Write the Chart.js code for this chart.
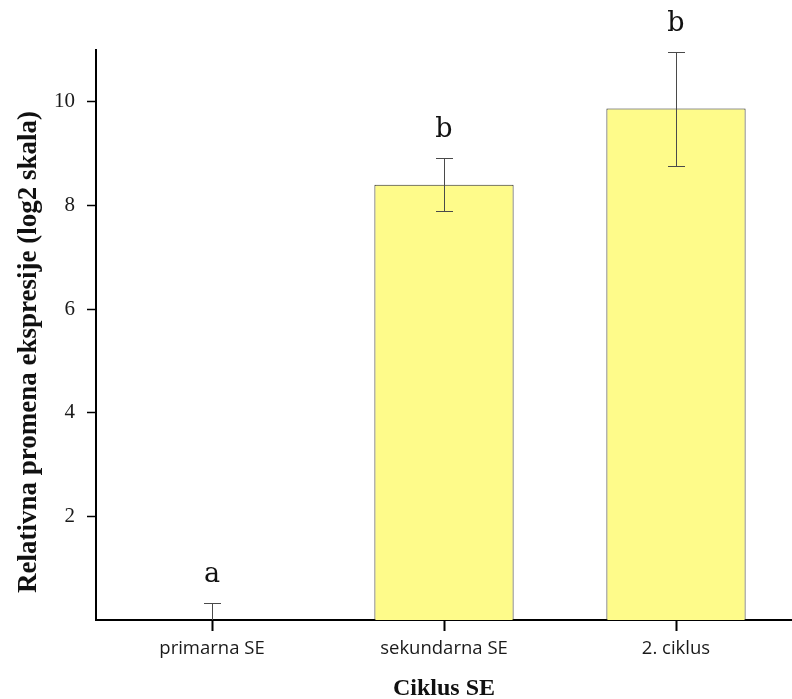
<!DOCTYPE html>
<html>
<head>
<meta charset="utf-8">
<script src="https://cdn.jsdelivr.net/npm/chart.js@4.4.1/dist/chart.umd.min.js"></script>
<style>
  html, body { margin: 0; padding: 0; background: #ffffff; }
  #wrap { width: 792px; height: 699px; position: relative; }
</style>
</head>
<body>
<div id="wrap"><canvas id="chart" width="792" height="699"></canvas></div>
<script>
// Relative expression change per SE cycle (log2 scale), mean ± error
const categories = ['primarna SE', 'sekundarna SE', '2. ciklus'];
const means = [0, 8.4, 9.87];
const errors = [0.32, 0.51, 1.1];
const groupLetters = ['a', 'b', 'b'];
const yTicks = [2, 4, 6, 8, 10];
const yTitle = 'Relativna promena ekspresije (log2 skala)';

// Error bars (upper whisker only when the lower end would fall below zero) and group letters
const errorBarPlugin = {
  id: 'errorBars',
  afterDatasetsDraw(chart) {
    const ctx = chart.ctx;
    const meta = chart.getDatasetMeta(0);
    const yScale = chart.scales.y;
    ctx.save();
    meta.data.forEach((bar, i) => {
      const x = Math.round(bar.x);
      const hi = Math.round(yScale.getPixelForValue(means[i] + errors[i]));
      const loVal = means[i] - errors[i];
      const mid = yScale.getPixelForValue(means[i]);
      const lo = Math.round(loVal >= 0 ? yScale.getPixelForValue(loVal) : mid);
      ctx.strokeStyle = '#4a4a4a';
      ctx.lineWidth = 1;
      ctx.beginPath();
      ctx.moveTo(x + 0.5, hi);
      ctx.lineTo(x + 0.5, lo);
      ctx.moveTo(x - 8, hi + 0.5);
      ctx.lineTo(x + 9, hi + 0.5);
      if (loVal >= 0) {
        ctx.moveTo(x - 8, lo + 0.5);
        ctx.lineTo(x + 9, lo + 0.5);
      }
      ctx.stroke();
      ctx.fillStyle = '#111111';
      ctx.font = '27px "DejaVu Serif"';
      ctx.textAlign = 'center';
      ctx.textBaseline = 'alphabetic';
      ctx.fillText(groupLetters[i], x, hi - 21);
    });
    ctx.restore();
  }
};

// Vertical axis title, drawn beside the value axis
const yTitlePlugin = {
  id: 'yTitle',
  afterDraw(chart) {
    const ctx = chart.ctx;
    const area = chart.chartArea;
    ctx.save();
    ctx.translate(36, (area.top + area.bottom) / 2 + 17);
    ctx.rotate(-Math.PI / 2);
    ctx.font = 'bold 27px "Liberation Serif"';
    ctx.fillStyle = '#111111';
    ctx.textAlign = 'center';
    ctx.textBaseline = 'alphabetic';
    ctx.fillText(yTitle, 0, 0);
    ctx.restore();
  }
};

new Chart(document.getElementById('chart'), {
  type: 'bar',
  data: {
    labels: categories,
    datasets: [{
      data: means,
      backgroundColor: '#fefb8a',
      borderColor: '#2a2a2a',
      borderWidth: 1,
      borderSkipped: 'bottom',
      categoryPercentage: 1.0,
      barPercentage: 0.6
    }]
  },
  options: {
    responsive: false,
    animation: false,
    layout: { padding: { left: 0, right: 0, top: 50, bottom: 0 } },
    plugins: { legend: { display: false }, tooltip: { enabled: false } },
    scales: {
      x: {
        offset: true,
        grid: { offset: false, drawOnChartArea: false, drawTicks: true, tickLength: 11, tickColor: '#000', tickWidth: 2 },
        border: { display: true, color: '#000', width: 2 },
        ticks: { color: '#1a1a1a', padding: 7, font: { family: 'Open Sans', size: 18.5 } },
        title: {
          display: true, text: 'Ciklus SE', color: '#111',
          font: { family: 'Liberation Serif', size: 24, weight: 'bold', lineHeight: 1.2 },
          padding: { top: 0, bottom: -4 }
        },
        afterFit(scale) { scale.height = 79; }
      },
      y: {
        min: 0, max: 11,
        afterBuildTicks(scale) { scale.ticks = yTicks.map(v => ({ value: v })); },
        grid: { drawOnChartArea: false, drawTicks: true, tickLength: 9, tickColor: '#000', tickWidth: 1.5 },
        border: { display: true, color: '#000', width: 2 },
        ticks: { color: '#1a1a1a', padding: 12, font: { family: 'Liberation Serif', size: 21 } },
        afterFit(scale) { scale.width = 96; }
      }
    }
  },
  plugins: [errorBarPlugin, yTitlePlugin]
});
</script>
</body>
</html>
